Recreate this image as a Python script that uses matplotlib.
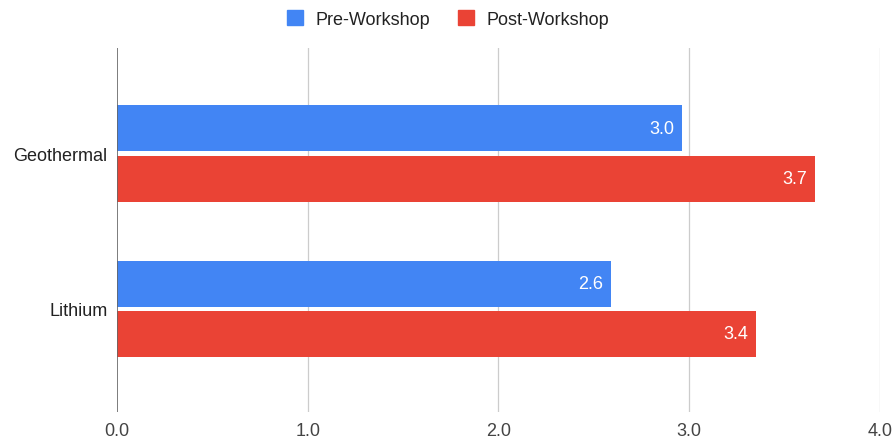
import matplotlib

matplotlib.use("Agg")
import matplotlib.pyplot as plt
from matplotlib.patches import Patch

categories = ["Geothermal", "Lithium"]
pre_workshop = [2.96, 2.59]
post_workshop = [3.66, 3.35]
x_ticks = [0.0, 1.0, 2.0, 3.0, 4.0]

BLUE = "#4285F4"
RED = "#EA4335"

plt.rcParams["font.family"] = ["Liberation Sans", "DejaVu Sans"]

fig = plt.figure(figsize=(8.96, 4.39), dpi=100)
ax = fig.add_axes([0.1306, 0.0592, 0.8514, 0.8292])

positions = list(range(len(categories)))
bar_h = 0.297
offset = 0.162
pre_bars = ax.barh([p - offset for p in positions], pre_workshop, height=bar_h, color=BLUE, zorder=3)
post_bars = ax.barh([p + offset for p in positions], post_workshop, height=bar_h, color=RED, zorder=3)

for bars, values in ((pre_bars, pre_workshop), (post_bars, post_workshop)):
    for bar, value in zip(bars, values):
        ax.text(
            value - 0.04,
            bar.get_y() + bar.get_height() / 2,
            f"{value:.1f}",
            ha="right",
            va="center",
            color="white",
            fontsize=13,
            zorder=4,
        )

ax.set_xlim(0, 4.0)
ax.set_ylim(1.665, -0.68)
ax.set_xticks(x_ticks)
ax.set_xticklabels([f"{t:.1f}" for t in x_ticks])
ax.set_yticks(positions)
ax.set_yticklabels(categories)
ax.tick_params(axis="x", length=0, pad=7, labelsize=13, labelcolor="#444444")
ax.tick_params(axis="y", length=0, pad=7, labelsize=13, labelcolor="#222222")

for t in x_ticks[1:]:
    ax.axvline(t, color="#cccccc", lw=0.9, zorder=1)
ax.axvline(0, color="#666666", lw=1.2, zorder=5)

for side in ("top", "right", "bottom", "left"):
    ax.spines[side].set_visible(False)

handles = [Patch(color=BLUE, label="Pre-Workshop"), Patch(color=RED, label="Post-Workshop")]
fig.legend(
    handles=handles,
    loc="center",
    bbox_to_anchor=(0.5, 0.955),
    ncol=2,
    frameon=False,
    fontsize=13,
    handlelength=0.9,
    handleheight=0.9,
    handletextpad=0.7,
    columnspacing=1.5,
    labelcolor="#222222",
)

fig.savefig("out.png", dpi=100)
